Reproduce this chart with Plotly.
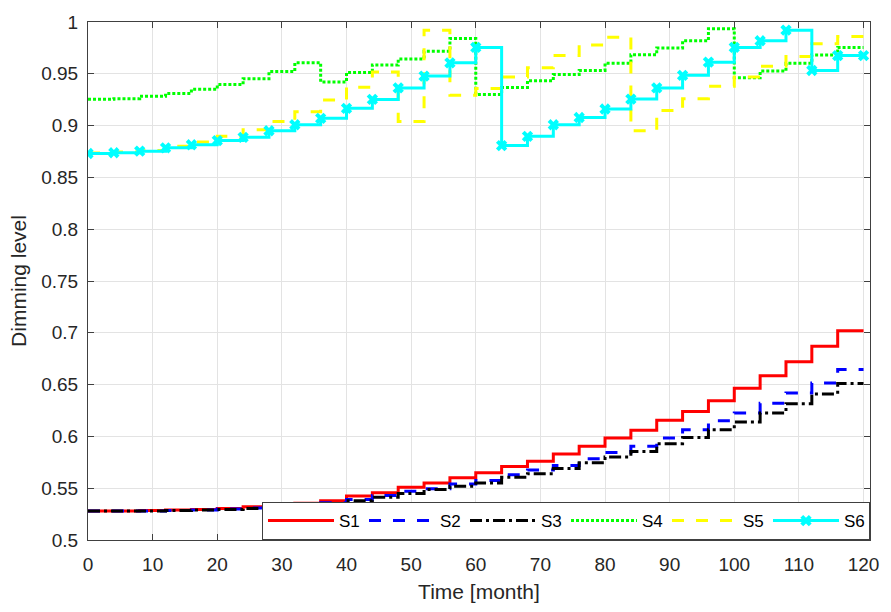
import plotly.graph_objects as go

months = list(range(0, 121, 4))

s1 = [0.528, 0.528, 0.5285, 0.529, 0.5295, 0.5305, 0.532, 0.5335, 0.5355, 0.538,
      0.5425, 0.5455, 0.551, 0.555, 0.56, 0.565, 0.571, 0.576, 0.583, 0.5905,
      0.5985, 0.606, 0.6155, 0.624, 0.6345, 0.6465, 0.6585, 0.672, 0.687, 0.702, 0.702]
s2 = [0.528, 0.528, 0.528, 0.5285, 0.529, 0.53, 0.531, 0.532, 0.534, 0.536,
      0.539, 0.543, 0.547, 0.5495, 0.554, 0.5575, 0.563, 0.5675, 0.572, 0.5785,
      0.5845, 0.5905, 0.5985, 0.6065, 0.615, 0.6225, 0.632, 0.642, 0.6515, 0.6645, 0.6645]
s3 = [0.528, 0.528, 0.528, 0.5285, 0.529, 0.5295, 0.5305, 0.5315, 0.533, 0.535,
      0.538, 0.5413, 0.545, 0.5487, 0.552, 0.555, 0.5605, 0.564, 0.569, 0.5745,
      0.58, 0.5855, 0.593, 0.599, 0.6065, 0.614, 0.6225, 0.6315, 0.641, 0.651, 0.651]
s4 = [0.9255, 0.926, 0.9284, 0.931, 0.935, 0.9396, 0.9453, 0.9523, 0.9606, 0.9421,
      0.9512, 0.9586, 0.9644, 0.9717, 0.9841, 0.930, 0.9367, 0.9434, 0.9494, 0.9532,
      0.9602, 0.9685, 0.9749, 0.9819, 0.9936, 0.9462, 0.9526, 0.9602, 0.9682, 0.9755, 0.9755]
s5 = [0.8735, 0.8745, 0.876, 0.880, 0.8842, 0.8896, 0.896, 0.9039, 0.9134, 0.9246,
      0.937, 0.9517, 0.9039, 0.9921, 0.9294, 0.9357, 0.9469, 0.9558, 0.9676, 0.9777,
      0.9853, 0.895, 0.9145, 0.926, 0.938, 0.9469, 0.9574, 0.9666, 0.979, 0.986, 0.986]
s6 = [0.8731, 0.8738, 0.8753, 0.8785, 0.8815, 0.8855, 0.8887, 0.895, 0.9008, 0.907,
      0.9167, 0.9253, 0.9364, 0.9478, 0.9606, 0.9755, 0.8807, 0.8896, 0.9008, 0.9078,
      0.916, 0.9256, 0.9364, 0.9485, 0.9612, 0.9755, 0.9819, 0.9921, 0.9532, 0.9676, 0.9676]

series_names = ["S1", "S2", "S3", "S4", "S5", "S6"]
x_ticks = [0, 10, 20, 30, 40, 50, 60, 70, 80, 90, 100, 110, 120]
y_ticks = [0.5, 0.55, 0.6, 0.65, 0.7, 0.75, 0.8, 0.85, 0.9, 0.95, 1.0]
y_ticktext = ["0.5", "0.55", "0.6", "0.65", "0.7", "0.75", "0.8", "0.85", "0.9", "0.95", "1"]

styles = [
    dict(color="#FF0000", dash="solid"),
    dict(color="#0000FF", dash="12px,12px"),
    dict(color="#000000", dash="12px,4px,3px,4px"),
    dict(color="#00FF00", dash="3px,2px"),
    dict(color="#FFFF00", dash="12px,12px"),
    dict(color="#00FFFF", dash="solid"),
]

fig = go.Figure()
for name, vals, st in zip(series_names, [s1, s2, s3, s4, s5, s6], styles):
    kw = dict(mode="lines")
    if name == "S6":
        kw = dict(mode="lines+markers",
                  marker=dict(symbol="x", size=10, color=st["color"]))
    fig.add_trace(go.Scatter(
        x=months, y=vals, name=name, line_shape="hv",
        line=dict(color=st["color"], width=3, dash=st["dash"]), **kw))

axis_common = dict(
    showline=True, linecolor="#404040", linewidth=1, mirror="allticks",
    ticks="inside", ticklen=6, tickcolor="#404040",
    showgrid=True, gridcolor="#e3e3e3", gridwidth=1, zeroline=False,
    tickfont=dict(size=19, color="#262626"),
)

fig.update_xaxes(range=[0, 121], tickvals=x_ticks, ticklabelstandoff=7,
                 title=dict(text="Time [month]", font=dict(size=21, color="#262626"), standoff=10),
                 **axis_common)
fig.update_yaxes(range=[0.5, 1.0], tickvals=y_ticks, ticktext=y_ticktext, ticklabelstandoff=5,
                 title=dict(text="Dimming level", font=dict(size=21, color="#262626"), standoff=8),
                 **axis_common)

fig.update_layout(
    width=891, height=612,
    margin=dict(l=88, r=13, t=16, b=72),
    plot_bgcolor="white", paper_bgcolor="white",
    font=dict(family="Liberation Sans, Arial, sans-serif", color="#262626"),
    legend=dict(orientation="h", x=1, xanchor="right", y=0, yanchor="bottom",
                bgcolor="white", bordercolor="#404040", borderwidth=1,
                font=dict(size=17, color="#000000"),
                itemwidth=66, entrywidth=20, entrywidthmode="pixels",
                traceorder="normal"),
)

fig.write_html("out.html")
